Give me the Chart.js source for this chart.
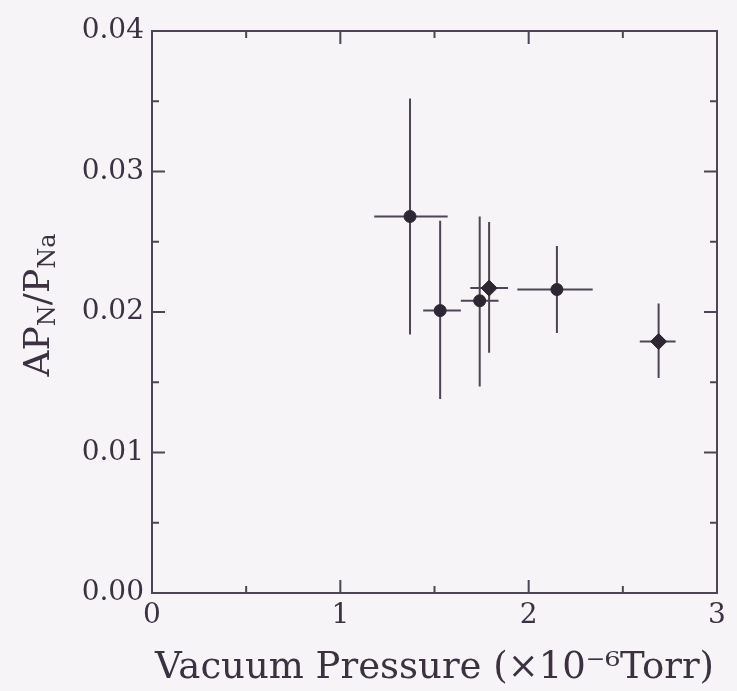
<!DOCTYPE html>
<html>
<head>
<meta charset="utf-8">
<script src="https://cdn.jsdelivr.net/npm/chart.js@4.4.1/dist/chart.umd.min.js"></script>
<style>
  html, body { margin: 0; padding: 0; background: #f6f4f6; }
  #wrap { position: relative; width: 737px; height: 691px; }
  canvas { display: block; }
</style>
</head>
<body>
<div id="wrap"><canvas id="c" width="737" height="691"></canvas></div>
<script>
// ---- data ----
const pressure     = [1.37, 1.53, 1.74, 1.79, 2.15, 2.69];      // x, ×10^-6 Torr
const pressureLow  = [1.18, 1.44, 1.64, 1.69, 1.94, 2.59];
const pressureHigh = [1.57, 1.64, 1.84, 1.89, 2.34, 2.78];
const ratio        = [0.0268, 0.0201, 0.0208, 0.0217, 0.0216, 0.0179]; // AP_N/P_Na
const ratioLow     = [0.0184, 0.0138, 0.0147, 0.0171, 0.0185, 0.0153];
const ratioHigh    = [0.0352, 0.0265, 0.0268, 0.0264, 0.0247, 0.0206];
const markerStyle  = ['circle', 'circle', 'circle', 'rectRot', 'circle', 'rectRot'];
const xTickLabels  = ['0', '1', '2', '3'];
const yTickLabels  = ['0.00', '0.01', '0.02', '0.03', '0.04'];
const xTitle = 'Vacuum Pressure (\u00d710\u207b\u2076Torr)';

const INK = '#3b3140';
const LINE = '#4f4455';
const FONT = '"DejaVu Serif", "Liberation Serif", serif';

const points = pressure.map((x, i) => ({x: x, y: ratio[i]}));

const bgPlugin = {
  id: 'bg',
  beforeDraw(chart) {
    const ctx = chart.ctx;
    ctx.save();
    ctx.fillStyle = '#f6f4f6';
    ctx.fillRect(0, 0, chart.width, chart.height);
    ctx.restore();
  }
};

const errorBarPlugin = {
  id: 'errbars',
  beforeDatasetsDraw(chart) {
    const ctx = chart.ctx, xs = chart.scales.x, ys = chart.scales.y;
    ctx.save();
    ctx.strokeStyle = LINE;
    ctx.lineWidth = 2;
    for (let i = 0; i < pressure.length; i++) {
      const px = xs.getPixelForValue(pressure[i]);
      const py = ys.getPixelForValue(ratio[i]);
      ctx.beginPath();
      ctx.moveTo(xs.getPixelForValue(pressureLow[i]), py);
      ctx.lineTo(xs.getPixelForValue(pressureHigh[i]), py);
      ctx.moveTo(px, ys.getPixelForValue(ratioLow[i]));
      ctx.lineTo(px, ys.getPixelForValue(ratioHigh[i]));
      ctx.stroke();
    }
    ctx.restore();
  }
};

const framePlugin = {
  id: 'frame',
  afterDraw(chart) {
    const ctx = chart.ctx, a = chart.chartArea, xs = chart.scales.x, ys = chart.scales.y;
    ctx.save();
    ctx.strokeStyle = LINE;
    ctx.lineWidth = 2;
    ctx.strokeRect(a.left, a.top, a.right - a.left, a.bottom - a.top);
    ctx.beginPath();
    // x ticks (inward, bottom and top)
    for (let v = xs.min; v <= xs.max + 1e-9; v += 0.5) {
      const major = Math.abs(v - Math.round(v)) < 1e-9;
      const len = major ? 13 : 7;
      const p = xs.getPixelForValue(v);
      ctx.moveTo(p, a.bottom); ctx.lineTo(p, a.bottom - len);
      ctx.moveTo(p, a.top); ctx.lineTo(p, a.top + len);
    }
    // y ticks (inward, left and right)
    for (let k = 0; k <= 8; k++) {
      const v = ys.min + k * 0.005;
      const len = (k % 2 === 0) ? 13 : 7;
      const p = ys.getPixelForValue(v);
      ctx.moveTo(a.left, p); ctx.lineTo(a.left + len, p);
      ctx.moveTo(a.right, p); ctx.lineTo(a.right - len, p);
    }
    ctx.stroke();

    // y axis title with subscripts: AP_N / P_Na
    ctx.fillStyle = INK;
    ctx.translate(40, 305);
    ctx.rotate(-Math.PI / 2);
    const big = '36px ' + FONT, small = '24px ' + FONT;
    const parts = [['AP', big, 0], ['N', small, 9], ['/P', big, 0], ['Na', small, 9]];
    let total = 0;
    parts.forEach(p => { ctx.font = p[1]; total += ctx.measureText(p[0]).width; });
    let x = -total / 2;
    ctx.textBaseline = 'middle';
    parts.forEach(p => {
      ctx.font = p[1];
      ctx.fillText(p[0], x, p[2]);
      x += ctx.measureText(p[0]).width;
    });
    ctx.restore();
  }
};

new Chart(document.getElementById('c'), {
  type: 'scatter',
  data: {
    datasets: [{
      data: points,
      pointStyle: markerStyle,
      pointRadius: [6, 6, 6, 8, 6, 8],
      pointBackgroundColor: '#2e2633',
      pointBorderColor: '#2e2633',
      pointBorderWidth: 1,
      showLine: false
    }]
  },
  options: {
    responsive: false,
    animation: false,
    layout: { padding: { top: 31, right: 20, left: 0, bottom: 0 } },
    plugins: { legend: { display: false }, tooltip: { enabled: false } },
    scales: {
      x: {
        type: 'linear', min: 0, max: 3,
        afterFit(s) { s.height = 98; },
        afterBuildTicks(s) { s.ticks = xTickLabels.map(t => ({value: Number(t)})); },
        grid: { display: false, drawTicks: false },
        border: { display: false },
        ticks: {
          padding: 6,
          color: INK,
          font: { family: FONT, size: 28 },
          callback: (v) => xTickLabels[xTickLabels.map(Number).indexOf(v)],
          maxRotation: 0
        },
        title: {
          display: true, text: xTitle, color: INK,
          font: { family: FONT, size: 37 },
          padding: { top: 8, bottom: 0 }
        }
      },
      y: {
        type: 'linear', min: 0, max: 0.04,
        afterFit(s) { s.width = 152; },
        afterBuildTicks(s) { s.ticks = yTickLabels.map(t => ({value: Number(t)})); },
        grid: { display: false, drawTicks: false },
        border: { display: false },
        ticks: {
          padding: 8,
          color: INK,
          font: { family: FONT, size: 28 },
          callback: (v) => yTickLabels[yTickLabels.map(Number).findIndex(n => Math.abs(n - v) < 1e-9)]
        }
      }
    }
  },
  plugins: [bgPlugin, errorBarPlugin, framePlugin]
});
</script>
</body>
</html>
